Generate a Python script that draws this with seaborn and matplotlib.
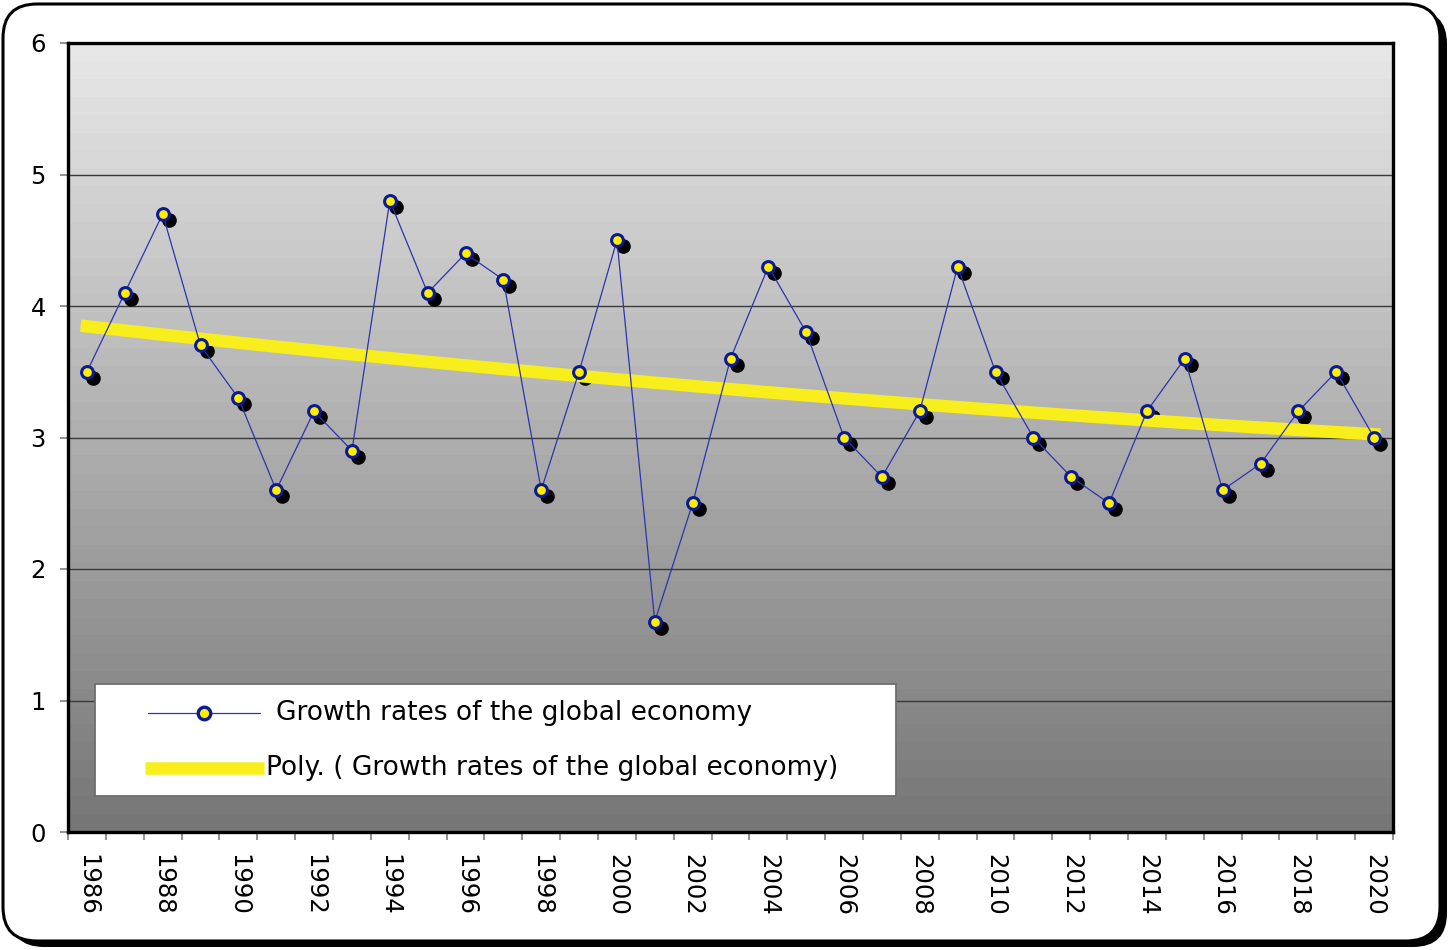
import numpy as np
import pandas as pd
import matplotlib
matplotlib.use("Agg")
import matplotlib.pyplot as plt
import matplotlib.transforms as mtransforms
from matplotlib.patches import FancyBboxPatch, Rectangle
from matplotlib.lines import Line2D
import seaborn as sns

# --- data -------------------------------------------------------------
years = list(range(1986, 2021))
growth = [3.5, 4.1, 4.7, 3.7, 3.3, 2.6, 3.2, 2.9, 4.8, 4.1,
          4.4, 4.2, 2.6, 3.5, 4.5, 1.6, 2.5, 3.6, 4.3, 3.8,
          3.0, 2.7, 3.2, 4.3, 3.5, 3.0, 2.7, 2.5, 3.2, 3.6,
          2.6, 2.8, 3.2, 3.5, 3.0]
y_ticks = [0, 1, 2, 3, 4, 5, 6]
series_label = "Growth rates of the global economy"
trend_label = "Poly. ( Growth rates of the global economy)"

df = pd.DataFrame({"pos": np.arange(len(years)), "year": years, "growth": growth})

# polynomial trend (order 2) fitted over the category positions
coef = np.polyfit(df["pos"] + 1, df["growth"], 2)
df["trend"] = np.polyval(coef, df["pos"] + 1)

# --- style ------------------------------------------------------------
sns.set_theme(style="white")
plt.rcParams["font.family"] = ["DejaVu Sans"]

W, H, DPI = 1450, 950, 100
fig = plt.figure(figsize=(W / DPI, H / DPI), dpi=DPI, facecolor="white")

# rounded chart frame with drop shadow (pixel coordinates)
ident = mtransforms.IdentityTransform()
shadow = FancyBboxPatch((10, 3), 1437, 937, boxstyle="round,pad=0,rounding_size=34",
                        transform=ident, facecolor="black", edgecolor="black", lw=0,
                        zorder=0)
frame = FancyBboxPatch((3, 9), 1437, 937, boxstyle="round,pad=0,rounding_size=34",
                       transform=ident, facecolor="white", edgecolor="black", lw=2.2,
                       zorder=1)
fig.patches.extend([shadow, frame])

ax_l, ax_r, ax_t, ax_b = 68, 1393, 43, 832
ax = fig.add_axes([ax_l / W, 1 - ax_b / H, (ax_r - ax_l) / W, (ax_b - ax_t) / H])
ax.set_zorder(2)

# stepped vertical gradient background
n_bands = 44
shade = np.linspace(0.905, 0.465, n_bands).reshape(-1, 1)
ax.imshow(np.repeat(shade[:, :, None], 3, axis=2), extent=[0, 1, 0, 1],
          transform=ax.transAxes, aspect="auto", interpolation="nearest", zorder=0)

ax.set_xlim(-0.5, len(years) - 0.5)
ax.set_ylim(y_ticks[0], y_ticks[-1])

# horizontal gridlines
for yv in y_ticks[1:-1]:
    ax.axhline(yv, color="#3a3a3a", lw=1.0, zorder=1)

# trend line
sns.lineplot(data=df, x="pos", y="trend", ax=ax, color="#f8ee1c", lw=9,
             solid_capstyle="projecting", zorder=3, legend=False)

# marker shadows, offset down-right
shadow_tr = mtransforms.offset_copy(ax.transData, fig=fig, x=6, y=-6, units="dots")
ax.plot(df["pos"], df["growth"], ls="none", marker="o", ms=9.5,
        mfc="black", mec="black", transform=shadow_tr, zorder=2)

# series line with markers
sns.lineplot(data=df, x="pos", y="growth", ax=ax, color="#2d33b0", lw=0.9,
             marker="o", markersize=8.5, markerfacecolor="#ffee00",
             markeredgecolor="#0a1a96", markeredgewidth=2.2, zorder=4, legend=False)

# axes frame
for side in ["left", "right", "top", "bottom"]:
    ax.spines[side].set_visible(True)
    ax.spines[side].set_color("black")
    ax.spines[side].set_linewidth(2.4)
    ax.spines[side].set_zorder(5)

ax.set_yticks(y_ticks)
ax.set_yticklabels([str(v) for v in y_ticks])
ax.tick_params(axis="y", which="major", length=6, width=1.3, color="#8a8a8a",
               direction="out", pad=10, labelsize=17.5, left=True, labelcolor="black")

even_pos = [i for i, yv in enumerate(years) if yv % 2 == 0]
ax.set_xticks(even_pos)
ax.set_xticklabels([str(years[i]) for i in even_pos], rotation=270,
                   ha="center", va="top")
ax.set_xticks(np.arange(-0.5, len(years) + 0.5, 1), minor=True)
ax.tick_params(axis="x", which="major", length=0, pad=16, labelsize=17.5,
               bottom=True, labelcolor="black")
ax.tick_params(axis="x", which="minor", length=6, width=1.3, color="#8a8a8a",
               direction="out", bottom=True)
ax.set_xlabel("")
ax.set_ylabel("")

# legend box
lx0, lx1 = (95 - ax_l) / (ax_r - ax_l), (896 - ax_l) / (ax_r - ax_l)
ly0, ly1 = (ax_b - 796) / (ax_b - ax_t), (ax_b - 684) / (ax_b - ax_t)
ax.add_patch(Rectangle((lx0, ly0), lx1 - lx0, ly1 - ly0, transform=ax.transAxes,
                       facecolor="white", edgecolor="#6e6e6e", lw=1.3, zorder=6))

def ax_x(px):
    return (px - ax_l) / (ax_r - ax_l)

def ax_y(py):
    return (ax_b - py) / (ax_b - ax_t)

row1, row2 = ax_y(713), ax_y(768)
ax.add_line(Line2D([ax_x(148), ax_x(260)], [row1, row1], transform=ax.transAxes,
                   color="#2d33b0", lw=0.9, zorder=7))
ax.add_line(Line2D([ax_x(204)], [row1], transform=ax.transAxes, ls="none",
                   marker="o", markersize=9, markerfacecolor="#ffee00",
                   markeredgecolor="#0a1a96", markeredgewidth=2.4, zorder=8))
ax.add_line(Line2D([ax_x(145), ax_x(264)], [row2, row2], transform=ax.transAxes,
                   color="#f8ee1c", lw=9, solid_capstyle="butt", zorder=7))
ax.text(ax_x(276), row1, series_label, transform=ax.transAxes, fontsize=19,
        va="center", ha="left", color="black", zorder=8)
ax.text(ax_x(266), row2, trend_label, transform=ax.transAxes, fontsize=19,
        va="center", ha="left", color="black", zorder=8)

fig.savefig("out.png", dpi=DPI, facecolor="white")
